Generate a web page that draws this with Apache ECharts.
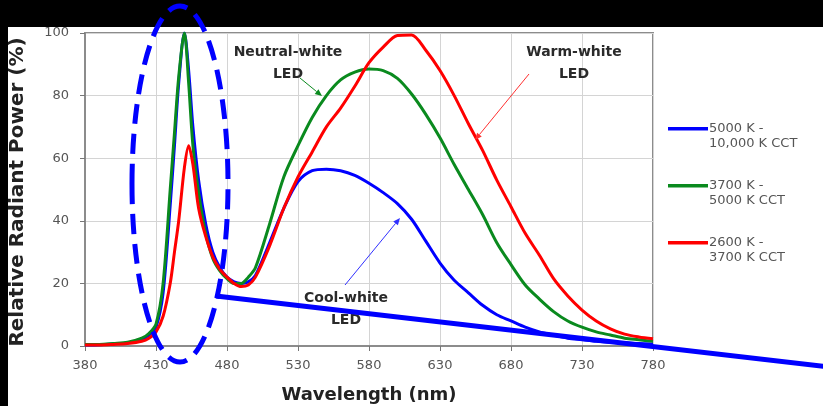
<!DOCTYPE html>
<html>
<head>
<meta charset="utf-8">
<script src="https://cdn.jsdelivr.net/npm/echarts@6/dist/echarts.min.js"></script>
<style>
html,body{margin:0;padding:0;background:#fff;}
#chart{width:823px;height:406px;}
</style>
</head>
<body>
<div id="chart"></div>
<script>
// ---- data ----
const wavelengths = [380,390,400,410,420,425,430,435,440,443,446,450,453,456,460,465,470,475,480,485,490,495,500,510,520,530,540,550,560,570,580,590,600,610,620,630,640,650,660,670,680,690,700,710,720,730,740,750,760,770,780];
const coolWhite = [0.3,0.4,0.7,1,2.2,3.5,6,17,45,64,84,100,88,70,53,39,30,25,22,20.5,20,20.5,22.5,33,44,52.5,56,56.5,56,54.5,52,49,45.5,40.5,33.5,26.5,21,17,13,10,8,6,4.5,3.5,2.5,2,1.5,1.2,1,0.8,0.6];
const neutralWhite = [0.5,0.5,0.8,1.2,2.5,4,7,20,50,68,86,100,84,64,49,36,28,24,21.5,20,20,22,25,39,54,64,73,80,85,87.5,88.5,88,85.5,80.5,74,66.5,58,50,42,33,26,19.5,15,11,8,6,4.5,3.5,2.5,2,1.5];
const warmWhite = [0.3,0.3,0.5,0.8,1.5,2.5,4.5,9.5,20,30,40,57,64,58,44,35,28.5,24.5,22,20,19,19.5,22,32,44,54,62,70,76,83,90.5,95.5,99.2,99.4,94.5,88,80,71,62.5,53,44.5,36,29,21.5,16,11.5,8,5.5,3.8,2.9,2.3];
const seriesNames = ['5000 K -\n10,000 K CCT','3700 K -\n5000 K CCT','2600 K -\n3700 K CCT'];
const seriesColors = ['#0000ff','#0a8a1e','#ff0000'];
const xMin = 380, xMax = 780, xStep = 50;
const yMin = 0, yMax = 100, yStep = 20;

const FONT = 'DejaVu Sans';
const chart = echarts.init(document.getElementById('chart'), null, {renderer:'canvas'});

function pairs(vals){ return wavelengths.map((w,i)=>[w - xMin, vals[i]]); }

function arrow(x1,y1,x2,y2,color){
  const dx=x2-x1, dy=y2-y1, L=Math.hypot(dx,dy), ux=dx/L, uy=dy/L, px=-uy, py=ux;
  const hl=7, hw=3;
  const bx=x2-ux*hl, by=y2-uy*hl;
  return [
    {type:'line', z:50, shape:{x1:x1,y1:y1,x2:bx,y2:by}, style:{stroke:color,lineWidth:1}},
    {type:'polygon', z:50, shape:{points:[[x2,y2],[bx+px*hw,by+py*hw],[bx-px*hw,by-py*hw]]}, style:{fill:color}}
  ];
}

const annoStyle = {font:'bold 14px "'+FONT+'"', fill:'#2a2a2a', textAlign:'center', textVerticalAlign:'middle', lineHeight:22};

const legendIcon = 'path://M0,0L0.05,0L0.05,0.05Z M0,6L40,6L40,9.5L0,9.5Z M39.95,29.95L40,29.95L40,30Z';

function lineSeries(i, vals){
  return {name:seriesNames[i], type:'line', data:pairs(vals), smooth:0.3, symbol:'none',
    lineStyle:{color:seriesColors[i], width:3}, itemStyle:{color:seriesColors[i]}};
}

const option = {
  animation:false,
  backgroundColor:'#ffffff',
  grid:{left:85, right:170, top:33, bottom:60, show:true, borderColor:'#8c8c8c', borderWidth:2, backgroundColor:'transparent'},
  xAxis:{
    type:'value', min:0, max:xMax-xMin, interval:xStep,
    axisLine:{show:true, lineStyle:{color:'#8c8c8c', width:2}},
    axisTick:{show:true, length:5, lineStyle:{color:'#777'}},
    axisLabel:{color:'#555', fontFamily:FONT, fontSize:13, margin:13, formatter:v=>String(v+xMin)},
    splitLine:{show:true, lineStyle:{color:'#d4d4d4', width:1}}
  },
  yAxis:{
    type:'value', min:yMin, max:yMax, interval:yStep,
    axisLine:{show:true, lineStyle:{color:'#8c8c8c', width:2}},
    axisTick:{show:true, length:5, lineStyle:{color:'#777'}},
    axisLabel:{color:'#555', fontFamily:FONT, fontSize:13, margin:16},
    splitLine:{show:true, lineStyle:{color:'#d4d4d4', width:1}}
  },
  legend:{
    orient:'vertical', left:663, top:116, itemGap:27, itemWidth:40, itemHeight:30,
    icon:legendIcon,
    itemStyle:{borderWidth:0},
    textStyle:{color:'#555', fontFamily:FONT, fontSize:13, lineHeight:15, padding:[0,0,0,-4]},
    data:seriesNames
  },
  series:[ lineSeries(0, coolWhite), lineSeries(1, neutralWhite), lineSeries(2, warmWhite) ],
  graphic:[
    {type:'rect', z:40, shape:{x:0,y:0,width:823,height:27}, style:{fill:'#000'}},
    {type:'rect', z:40, shape:{x:0,y:0,width:8,height:406}, style:{fill:'#000'}},
    {type:'text', z:45, x:18, y:192, rotation:Math.PI/2, style:{text:'Relative Radiant Power (%)', font:'bold 20px "'+FONT+'"', fill:'#222', textAlign:'center', textVerticalAlign:'middle'}},
    {type:'text', z:45, x:369, y:395, style:{text:'Wavelength (nm)', font:'bold 18px "'+FONT+'"', fill:'#222', textAlign:'center', textVerticalAlign:'middle'}},
    {type:'text', z:45, x:288, y:63, style:Object.assign({text:'Neutral-white\nLED'}, annoStyle)},
    {type:'text', z:45, x:574, y:63, style:Object.assign({text:'Warm-white\nLED'}, annoStyle)},
    {type:'text', z:45, x:346, y:309, style:Object.assign({text:'Cool-white\nLED'}, annoStyle)},
    ...arrow(300,78,322,96,'#0a8a1e'),
    ...arrow(529,74,475,140,'#ff3030'),
    ...arrow(345,285,400,218,'#3030ff'),
    {type:'line', z:60, shape:{x1:216,y1:296,x2:830,y2:367}, style:{stroke:'#0000ff', lineWidth:5}},
    {type:'ellipse', z:62, shape:{cx:180, cy:184, rx:48, ry:178}, style:{fill:null, stroke:'#0000ff', lineWidth:5, lineDash:[20,10]}}
  ]
};
chart.setOption(option);
</script>
</body>
</html>
